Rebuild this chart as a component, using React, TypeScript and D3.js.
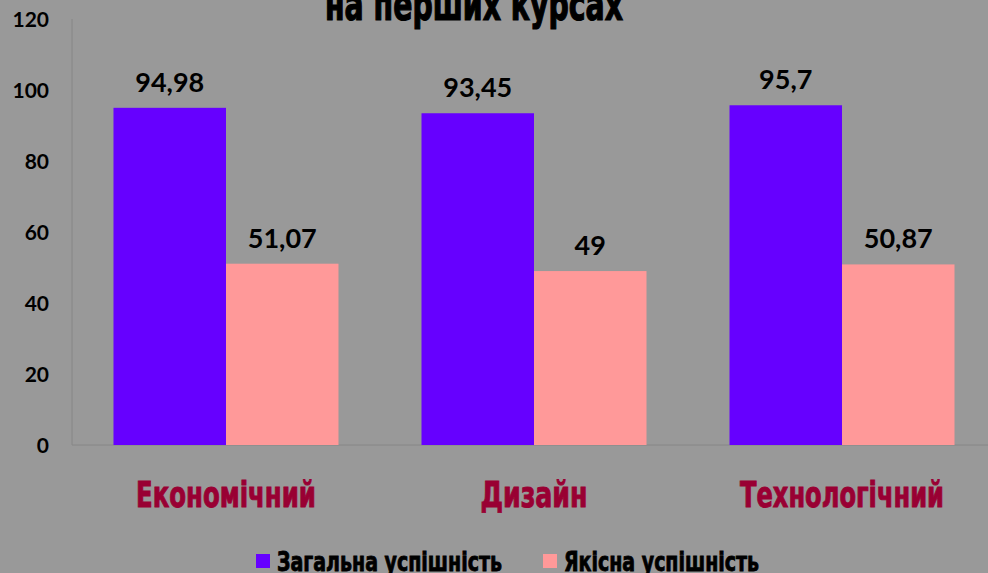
import React from 'react';
import * as d3 from 'd3';

const categories = ['Економічний', 'Дизайн', 'Технологічний'];
const seriesNames = ['Загальна успішність', 'Якісна успішність'];
const overall = [94.98, 93.45, 95.7];
const quality = [51.07, 49, 50.87];
const valueLabels = [['94,98', '93,45', '95,7'], ['51,07', '49', '50,87']];
const yTicks = [0, 20, 40, 60, 80, 100, 120];
const titleText = 'на перших курсах';

const colors = ['#6600FF', '#FF9999'];
const catWidths = [180, 107, 204];
const legendWidths = [225, 195];

const W = 988, H = 573;
const narrow = '"Liberation Sans Narrow", "DejaVu Sans Condensed", Arial Narrow, sans-serif';
const numFont = 'Lato, "Open Sans", sans-serif';

export default function App() {
  const series = [overall, quality];

  const x0 = d3.scaleBand<string>()
    .domain(categories)
    .range([72, 996])
    .paddingInner(0.2695)
    .paddingOuter(0.1347);

  const x1 = d3.scaleBand<number>()
    .domain([0, 1])
    .range([0, x0.bandwidth()]);

  const y = d3.scaleLinear()
    .domain([0, 120])
    .range([445, 19]);

  return (
    <div style={{ position: 'absolute', left: 0, top: 0 }}>
      <svg width={W} height={H} style={{ display: 'block' }}>
        <rect x={0} y={0} width={W} height={H} fill="#999999" />

        {/* title, partly cut off at the top */}
        <text x={325} y={20} fontFamily={narrow} fontWeight="bold" fontSize={44}
          stroke="#000" strokeWidth={1.2} paintOrder="stroke"
          textLength={298} lengthAdjust="spacingAndGlyphs" fill="#000">{titleText}</text>

        {/* axes */}
        <line x1={72} x2={72} y1={y(120)} y2={y(0)} stroke="#868686" strokeWidth={1} />
        <line x1={72} x2={W} y1={y(0)} y2={y(0)} stroke="#868686" strokeWidth={1} />
        {yTicks.map(t => (
          <text key={t} x={49} y={y(t)} dy="0.36em" textAnchor="end"
            fontFamily={numFont} fontWeight="bold" fontSize={21} fill="#000">{t}</text>
        ))}

        {/* bars */}
        {categories.map((c, i) => (
          <g key={c} transform={`translate(${x0(c)},0)`}>
            {series.map((s, k) => (
              <g key={k}>
                <rect x={x1(k)} y={y(s[i])} width={x1.bandwidth()} height={y(0) - y(s[i])}
                  fill={colors[k]} />
                <text x={(x1(k) as number) + x1.bandwidth() / 2} y={y(s[i]) - 16}
                  textAnchor="middle" fontFamily={numFont} fontWeight="bold" fontSize={27}
                  fill="#000">{valueLabels[k][i]}</text>
              </g>
            ))}
          </g>
        ))}

        {/* category labels */}
        {categories.map((c, i) => (
          <text key={c} x={(x0(c) as number) + x0.bandwidth() / 2 - catWidths[i] / 2} y={507}
            fontFamily={narrow} fontWeight="bold" fontSize={35} fill="#990033"
            stroke="#990033" strokeWidth={0.9}
            textLength={catWidths[i]} lengthAdjust="spacingAndGlyphs">{c}</text>
        ))}

        {/* legend */}
        {seriesNames.map((n, k) => {
          const lx = k === 0 ? 256 : 543;
          return (
            <g key={n}>
              <rect x={lx} y={554} width={14} height={14} fill={colors[k]} />
              <text x={lx + 21} y={571} fontFamily={narrow} fontWeight="bold" fontSize={26}
                fill="#000" stroke="#000" strokeWidth={0.8}
                textLength={legendWidths[k]} lengthAdjust="spacingAndGlyphs">{n}</text>
            </g>
          );
        })}
      </svg>
    </div>
  );
}
